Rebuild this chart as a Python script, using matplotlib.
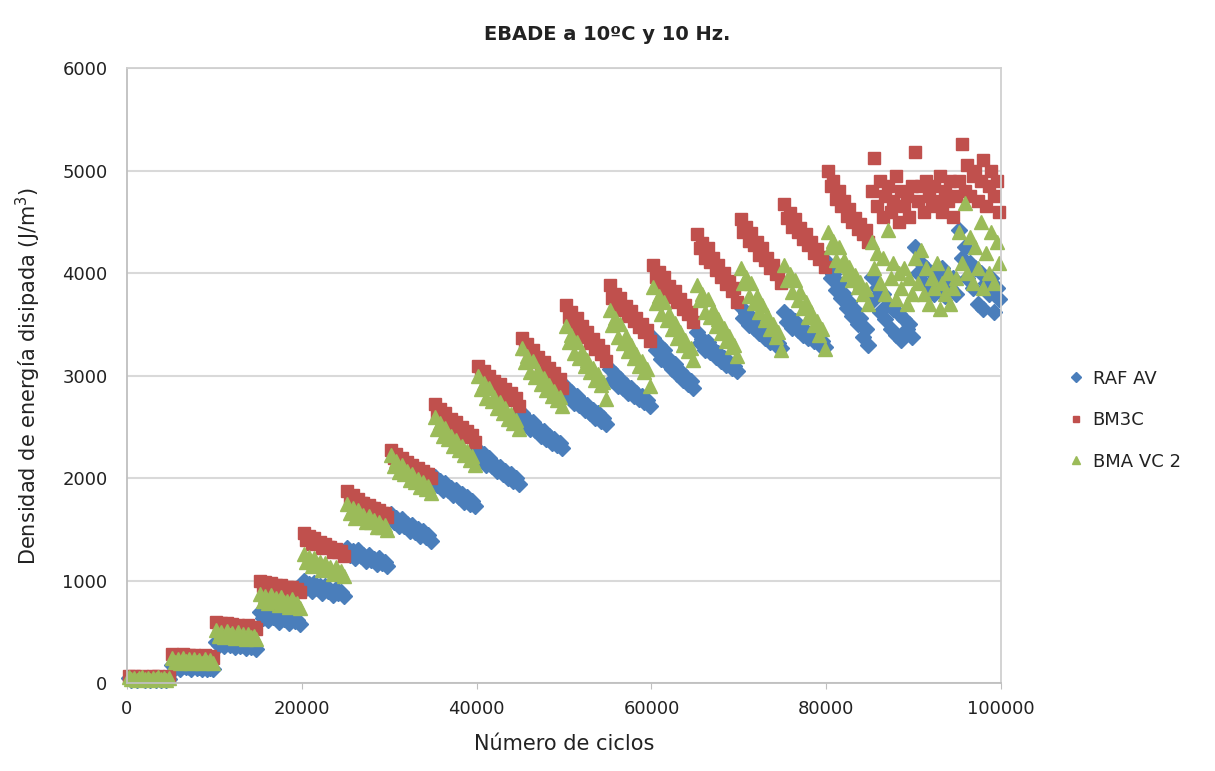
import matplotlib
matplotlib.use('Agg')
import matplotlib.pyplot as plt

# 20 bloques de 5000 ciclos; 16 lecturas por bloque
block_starts = [0, 5000, 10000, 15000, 20000, 25000, 30000, 35000, 40000, 45000,
                50000, 55000, 60000, 65000, 70000, 75000, 80000, 85000, 90000, 95000]
block_offsets = [200, 510, 810, 1120, 1430, 1730, 2040, 2350,
                 2650, 2960, 3270, 3570, 3880, 4190, 4490, 4800]

raf_av = [
    [45, 30, 40, 25, 40, 45, 30, 40, 25, 35, 30, 45, 25, 40, 30, 35],
    [175, 150, 170, 140, 170, 155, 160, 140, 165, 145, 155, 135, 160, 140, 150, 135],
    [405, 370, 395, 360, 400, 375, 385, 350, 390, 360, 370, 340, 375, 350, 360, 335],
    [690, 635, 670, 615, 680, 640, 655, 600, 660, 620, 635, 585, 640, 605, 615, 575],
    [1000, 930, 970, 900, 980, 930, 945, 880, 950, 900, 910, 855, 920, 875, 885, 845],
    [1320, 1250, 1290, 1220, 1300, 1240, 1250, 1190, 1250, 1200, 1210, 1160, 1220, 1170, 1180, 1140],
    [1650, 1570, 1610, 1530, 1600, 1530, 1550, 1480, 1540, 1470, 1500, 1430, 1480, 1420, 1440, 1390],
    [2010, 1930, 1970, 1880, 1950, 1880, 1900, 1830, 1880, 1810, 1840, 1770, 1810, 1750, 1780, 1730],
    [2270, 2180, 2230, 2130, 2200, 2120, 2140, 2070, 2110, 2040, 2070, 2000, 2040, 1970, 2000, 1940],
    [2630, 2540, 2580, 2480, 2550, 2470, 2490, 2410, 2460, 2380, 2410, 2340, 2380, 2320, 2340, 2290],
    [2890, 2790, 2840, 2730, 2800, 2710, 2740, 2660, 2710, 2630, 2660, 2590, 2630, 2560, 2590, 2530],
    [3060, 2960, 3010, 2900, 2970, 2880, 2910, 2830, 2880, 2800, 2830, 2770, 2800, 2740, 2760, 2700],
    [3370, 3250, 3300, 3160, 3250, 3120, 3160, 3060, 3110, 3010, 3040, 2960, 3000, 2920, 2950, 2880],
    [3420, 3320, 3360, 3250, 3330, 3230, 3260, 3180, 3220, 3140, 3170, 3100, 3130, 3070, 3090, 3040],
    [3670, 3560, 3610, 3490, 3570, 3460, 3490, 3410, 3450, 3370, 3400, 3330, 3360, 3300, 3320, 3270],
    [3620, 3520, 3570, 3460, 3530, 3440, 3470, 3400, 3430, 3370, 3400, 3340, 3370, 3310, 3340, 3280],
    [4100, 3950, 3990, 3830, 3900, 3760, 3800, 3660, 3720, 3580, 3640, 3500, 3560, 3380, 3450, 3300],
    [3960, 3750, 3850, 3620, 3800, 3550, 3700, 3450, 3650, 3400, 3600, 3350, 3550, 3450, 3500, 3380],
    [4250, 4000, 4100, 3900, 4050, 3850, 4000, 3800, 3950, 3880, 4050, 3780, 3900, 3850, 3950, 3800],
    [4420, 4150, 4250, 3950, 4100, 3850, 4050, 3700, 4000, 3650, 3900, 3800, 3950, 3620, 3850, 3750],
]

bm3c = [
    [70, 50, 65, 45, 60, 70, 50, 60, 45, 65, 55, 70, 45, 60, 50, 65],
    [285, 255, 275, 250, 280, 260, 270, 245, 275, 255, 265, 240, 270, 250, 260, 245],
    [600, 560, 590, 550, 585, 565, 575, 540, 570, 550, 560, 530, 565, 540, 550, 525],
    [1000, 950, 985, 935, 975, 950, 960, 915, 955, 930, 940, 900, 935, 910, 920, 885],
    [1460, 1400, 1430, 1360, 1410, 1370, 1380, 1320, 1360, 1330, 1330, 1280, 1310, 1280, 1290, 1240],
    [1870, 1800, 1830, 1760, 1800, 1760, 1760, 1710, 1740, 1710, 1710, 1660, 1690, 1660, 1660, 1620],
    [2270, 2200, 2230, 2160, 2200, 2150, 2160, 2100, 2130, 2090, 2100, 2050, 2070, 2040, 2040, 2000],
    [2720, 2630, 2670, 2570, 2630, 2560, 2580, 2500, 2550, 2480, 2500, 2420, 2460, 2400, 2420, 2350],
    [3090, 3000, 3040, 2940, 3000, 2930, 2950, 2870, 2920, 2840, 2870, 2790, 2830, 2760, 2780, 2700],
    [3370, 3260, 3310, 3190, 3250, 3150, 3180, 3090, 3130, 3050, 3070, 2990, 3020, 2950, 2970, 2880],
    [3690, 3570, 3620, 3490, 3560, 3440, 3480, 3380, 3420, 3320, 3360, 3260, 3300, 3210, 3240, 3140],
    [3880, 3760, 3800, 3680, 3760, 3640, 3680, 3580, 3630, 3530, 3560, 3470, 3500, 3420, 3440, 3340],
    [4080, 3960, 4010, 3880, 3960, 3830, 3870, 3770, 3820, 3720, 3750, 3650, 3690, 3600, 3620, 3520],
    [4380, 4240, 4290, 4150, 4240, 4110, 4150, 4030, 4080, 3960, 4000, 3890, 3920, 3820, 3850, 3720],
    [4530, 4400, 4450, 4310, 4390, 4270, 4300, 4180, 4240, 4130, 4150, 4050, 4080, 3990, 4000, 3900],
    [4670, 4540, 4590, 4450, 4530, 4400, 4440, 4330, 4380, 4270, 4300, 4200, 4230, 4140, 4160, 4060],
    [5000, 4850, 4900, 4720, 4800, 4650, 4700, 4560, 4620, 4500, 4540, 4430, 4480, 4380, 4420, 4300],
    [4800, 5120, 4650, 4900, 4550, 4750, 4850, 4600, 4700, 4950, 4500, 4800, 4650, 4750, 4550, 4850],
    [5180, 4700, 4850, 4600, 4900, 4750, 4650, 4850, 4700, 4950, 4600, 4800, 4700, 4900, 4550, 4750],
    [4900, 5260, 4800, 5050, 4750, 4950, 5000, 4700, 4900, 5100, 4650, 4850, 5000, 4750, 4900, 4600],
]

bma_vc2 = [
    [55, 35, 50, 30, 45, 55, 35, 50, 30, 45, 40, 55, 35, 45, 30, 50],
    [245, 205, 235, 200, 240, 215, 230, 200, 235, 210, 225, 195, 230, 205, 220, 200],
    [515, 460, 500, 450, 505, 470, 490, 440, 495, 455, 475, 430, 480, 445, 460, 425],
    [870, 800, 850, 780, 860, 810, 830, 760, 840, 790, 805, 745, 815, 770, 780, 735],
    [1260, 1180, 1230, 1140, 1220, 1160, 1180, 1100, 1170, 1110, 1130, 1060, 1130, 1080, 1090, 1040],
    [1750, 1660, 1710, 1610, 1690, 1620, 1640, 1570, 1630, 1570, 1590, 1520, 1570, 1520, 1540, 1490],
    [2220, 2120, 2170, 2060, 2130, 2040, 2070, 1980, 2040, 1960, 1990, 1910, 1960, 1890, 1920, 1850],
    [2600, 2480, 2540, 2410, 2490, 2380, 2410, 2310, 2370, 2270, 2310, 2220, 2260, 2180, 2210, 2130],
    [3000, 2870, 2930, 2780, 2880, 2750, 2790, 2680, 2740, 2630, 2680, 2580, 2620, 2540, 2570, 2480],
    [3270, 3130, 3190, 3030, 3140, 2990, 3040, 2920, 2980, 2860, 2910, 2800, 2850, 2760, 2790, 2700],
    [3480, 3330, 3400, 3220, 3330, 3170, 3230, 3090, 3150, 3030, 3070, 2960, 3010, 2910, 2940, 2770],
    [3640, 3490, 3560, 3380, 3500, 3320, 3390, 3240, 3300, 3170, 3210, 3090, 3140, 3030, 3060, 2900],
    [3860, 3710, 3780, 3600, 3720, 3540, 3600, 3450, 3510, 3370, 3420, 3300, 3350, 3240, 3270, 3150],
    [3880, 3740, 3800, 3620, 3750, 3570, 3640, 3480, 3550, 3410, 3460, 3340, 3390, 3280, 3300, 3190],
    [4050, 3900, 3960, 3780, 3900, 3710, 3780, 3620, 3690, 3540, 3590, 3450, 3500, 3380, 3420, 3250],
    [4080, 3930, 3990, 3810, 3930, 3740, 3810, 3660, 3720, 3570, 3620, 3490, 3530, 3400, 3450, 3260],
    [4400, 4250, 4310, 4130, 4250, 4080, 4130, 3990, 4060, 3930, 3980, 3860, 3910, 3800, 3840, 3700],
    [4300, 4050, 4200, 3900, 4150, 3800, 4420, 3950, 4100, 3750, 4000, 3850, 4050, 3700, 3950, 3800],
    [4150, 3900, 4220, 3800, 4050, 3700, 3950, 3850, 4100, 3650, 3900, 3800, 4000, 3700, 3850, 3950],
    [4400, 4100, 4680, 4000, 4350, 3900, 4250, 4050, 4500, 3850, 4200, 4000, 4400, 3900, 4300, 4100],
]

series = [
    ('RAF AV', raf_av, '#4A7EBB', 'D', 8.0),
    ('BM3C', bm3c, '#C0504D', 's', 8.0),
    ('BMA VC 2', bma_vc2, '#9BBB59', '^', 9.5),
]

cycles = [s + o for s in block_starts for o in block_offsets]

fig = plt.figure(figsize=(12.15, 7.71), dpi=100)
ax = fig.add_axes([0.1045, 0.1141, 0.7195, 0.7977])

for name, values, color, marker, ms in series:
    y = [v for block in values for v in block]
    ax.plot(cycles, y, linestyle='none', marker=marker, markersize=ms,
            color=color, markeredgecolor=color, label=name, clip_on=False)

ax.set_xlim(0, 100000)
ax.set_ylim(0, 6000)
ax.set_xticks([0, 20000, 40000, 60000, 80000, 100000])
ax.set_yticks([0, 1000, 2000, 3000, 4000, 5000, 6000])
ax.yaxis.grid(True, color='#D9D9D9', linewidth=1.5)
ax.set_axisbelow(True)
for sp in ax.spines.values():
    sp.set_color('#D0D0D0')
    sp.set_linewidth(1.3)
ax.spines['left'].set_color('#BFBFBF')
ax.spines['bottom'].set_color('#BFBFBF')
ax.tick_params(axis='both', labelsize=13, colors='#BFBFBF', labelcolor='#222222', length=4)
ax.tick_params(axis='y', length=0, pad=14)
ax.tick_params(axis='x', pad=8)

ax.set_xlabel('Número de ciclos', fontsize=15, color='#222222', labelpad=12)
ax.set_ylabel('Densidad de energía disipada (J/m$^3$)', fontsize=15, color='#222222', labelpad=14)
fig.text(0.5, 0.955, 'EBADE a 10ºC y 10 Hz.', ha='center', va='center',
         fontsize=14, fontweight='bold', color='#222222')

leg = fig.legend(loc='center left', bbox_to_anchor=(0.868, 0.455), frameon=False,
                 fontsize=13, markerscale=0.6, handlelength=0.6, handletextpad=0.6,
                 labelspacing=1.3)
for t in leg.get_texts():
    t.set_color('#222222')

plt.savefig('out.png', dpi=100, facecolor='white')
